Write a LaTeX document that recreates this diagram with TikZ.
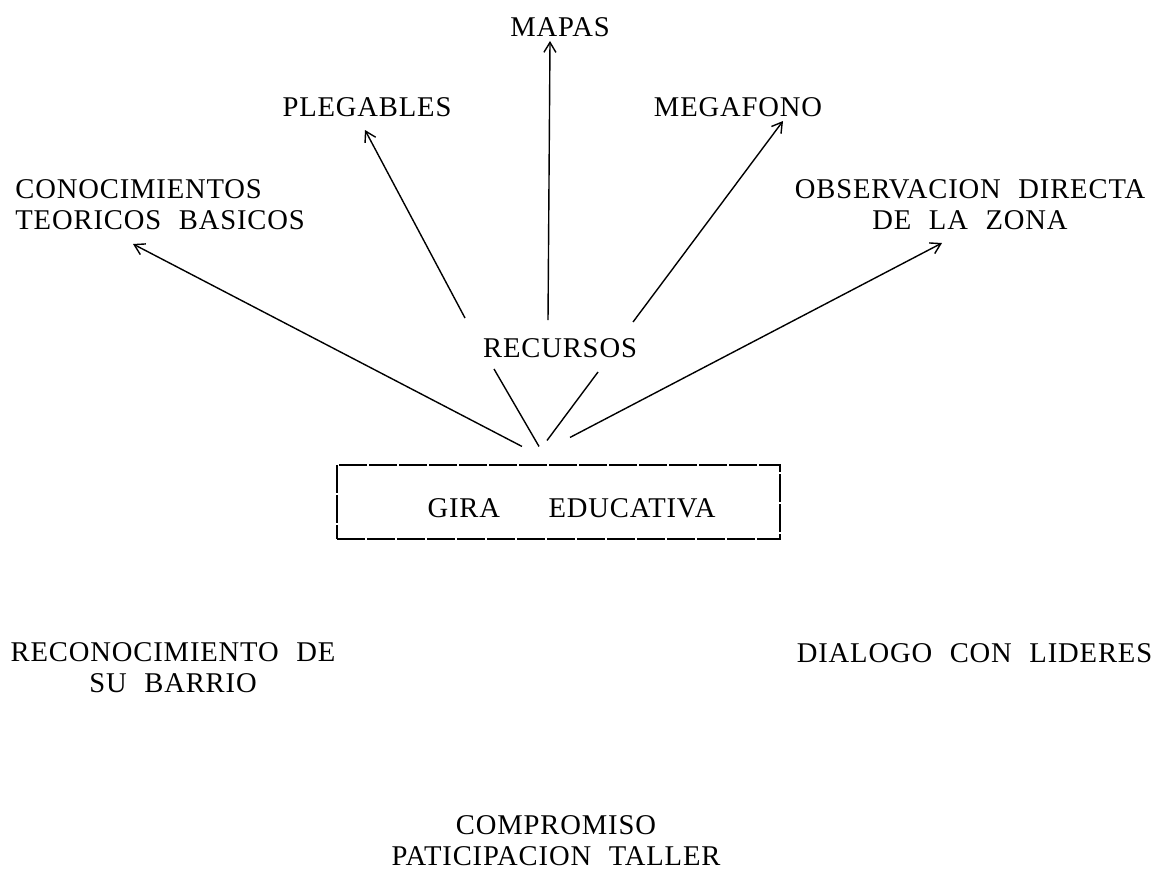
\documentclass[tikz,border=0pt]{standalone}
\usepackage{fontspec}
\setmainfont{Liberation Serif}[WordSpace=2.2,LetterSpace=3]
\usetikzlibrary{arrows.meta}
\begin{document}
\begin{tikzpicture}[x=0.5pt,y=-0.5pt,
  lbl/.style={inner sep=0pt,font=\fontsize{14.3}{15.5}\selectfont},
  conn/.style={line width=0.7pt,-{Straight Barb[length=5pt,width=6pt]}},
  plain/.style={line width=0.7pt},
  boxstyle/.style={draw,line width=0.55pt,dash pattern=on 14pt off 1pt,inner sep=0pt}]
\useasboundingbox[fill=white] (0,0) rectangle (1159,872);
% labels
\node[lbl] (mapas) at (560,27) {MAPAS};
\node[lbl] (pleg) at (367,107) {PLEGABLES};
\node[lbl] (mega) at (738,107) {MEGAFONO};
\node[lbl,align=left,anchor=west] (con) at (15,204.5) {CONOCIMIENTOS\\TEORICOS BASICOS};
\node[lbl,align=center] (obs) at (970,205) {OBSERVACION DIRECTA\\DE LA ZONA};
\node[lbl] (rec) at (560,348) {RECURSOS};
\node[boxstyle,minimum width=221.5pt,minimum height=37pt] (gira) at (558.5,502) {};
\node[lbl] (giraT) at (571.5,508) {GIRA\hspace{1.7em}EDUCATIVA};
\node[lbl,align=center] (barrio) at (173,667.5) {RECONOCIMIENTO DE\\SU BARRIO};
\node[lbl] (dia) at (974.5,653) {DIALOGO CON LIDERES};
\node[lbl,align=center] (comp) at (556,841) {COMPROMISO\\PATICIPACION TALLER};
% connectors
\draw[conn] ([shift={(-36.5,-18)}]gira.north) -- ([shift={(118,39.5)}]con.west);
\draw[conn] ([shift={(11.5,-27)}]gira.north) -- ([shift={(-28,38)}]obs.center);
\draw[plain] ([shift={(-66,21)}]rec.center) -- ([shift={(-19.5,-18)}]gira.north);
\draw[plain] ([shift={(38,24)}]rec.center) -- ([shift={(-11.5,-24)}]gira.north);
\draw[conn] ([shift={(-95,-30)}]rec.center) -- ([shift={(-2,23)}]pleg.center);
\draw[conn] ([shift={(-12,-28)}]rec.center) -- ([shift={(-10,14)}]mapas.center);
\draw[conn] ([shift={(73,-26)}]rec.center) -- ([shift={(45,14)}]mega.center);
\end{tikzpicture}
\end{document}
